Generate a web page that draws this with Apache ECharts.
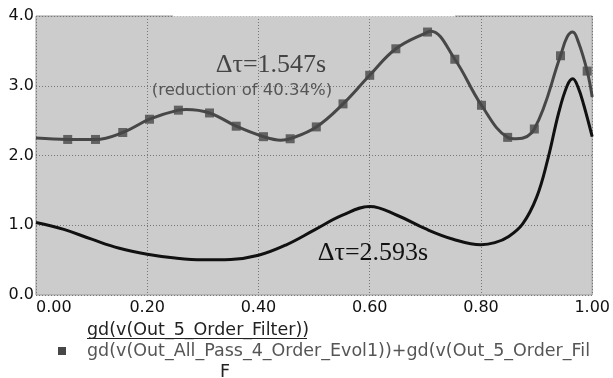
<!DOCTYPE html>
<html>
<head>
<meta charset="utf-8">
<script src="https://cdn.jsdelivr.net/npm/echarts@6/dist/echarts.min.js"></script>
<style>
html,body{margin:0;padding:0;background:#fff;}
#chart{width:613px;height:378px;}
</style>
</head>
<body>
<div id="chart"></div>
<script>
// x-axis ticks and y-axis ticks
var xTicks = [0, 0.2, 0.4, 0.6, 0.8, 1.0];
var yTicks = [0, 1, 2, 3, 4];

// Black curve: gd(v(Out_5_Order_Filter))
var blackX = [0, 0.05, 0.1, 0.15, 0.2, 0.25, 0.3, 0.35, 0.4, 0.45, 0.5, 0.55, 0.6, 0.65, 0.7, 0.75, 0.8, 0.825, 0.85, 0.875, 0.9, 0.92, 0.94, 0.955, 0.965, 0.975, 0.985, 1.0];
var blackY = [1.04, 0.94, 0.80, 0.67, 0.585, 0.53, 0.505, 0.51, 0.57, 0.72, 0.93, 1.14, 1.27, 1.14, 0.95, 0.80, 0.72, 0.75, 0.84, 1.02, 1.40, 1.94, 2.62, 3.0, 3.10, 2.97, 2.72, 2.27];

// Gray curve: gd(v(Out_All_Pass_4_Order_Evol1))+gd(v(Out_5_Order_Filter))
var grayX = [0, 0.057, 0.107, 0.156, 0.204, 0.256, 0.27, 0.312, 0.360, 0.409, 0.44, 0.457, 0.504, 0.552, 0.600, 0.647, 0.704, 0.71, 0.753, 0.801, 0.848, 0.864, 0.896, 0.943, 0.955, 0.965, 0.975, 0.991, 1.0];
var grayY = [2.25, 2.23, 2.23, 2.33, 2.52, 2.65, 2.66, 2.61, 2.42, 2.27, 2.22, 2.24, 2.41, 2.74, 3.15, 3.53, 3.77, 3.78, 3.38, 2.72, 2.26, 2.24, 2.38, 3.43, 3.70, 3.77, 3.63, 3.21, 2.84];

// Square markers on the gray curve
var markerX = [0.057, 0.107, 0.156, 0.204, 0.256, 0.312, 0.360, 0.409, 0.457, 0.504, 0.552, 0.600, 0.647, 0.704, 0.753, 0.801, 0.848, 0.896, 0.943, 0.991];
var markerY = [2.23, 2.23, 2.33, 2.52, 2.65, 2.61, 2.42, 2.27, 2.24, 2.41, 2.74, 3.15, 3.53, 3.77, 3.38, 2.72, 2.26, 2.38, 3.43, 3.21];

var legendNames = ['gd(v(Out_5_Order_Filter))', 'gd(v(Out_All_Pass_4_Order_Evol1))+gd(v(Out_5_Order_Fil', 'F'];
var annotations = ['\u0394\u03c4=1.547s', '(reduction of 40.34%)', '\u0394\u03c4=2.593s'];

function zip(a, b) { return a.map(function (v, i) { return [v, b[i]]; }); }

var chart = echarts.init(document.getElementById('chart'), null, {renderer: 'canvas'});
var sans = '"DejaVu Sans", Verdana, sans-serif';
var serif = '"Liberation Serif", "Times New Roman", serif';

chart.setOption({
  animation: false,
  backgroundColor: '#ffffff',
  grid: {left: 36, right: 19, top: 16, bottom: 83, show: true, backgroundColor: '#cccccc', borderColor: '#999999', borderWidth: 1},
  xAxis: {
    type: 'value', min: 0, max: 1, interval: 0.2,
    axisLine: {show: false},
    axisTick: {show: false},
    axisLabel: {fontFamily: sans, fontSize: 16, color: '#111', margin: 5, alignMinLabel: 'left',
      formatter: function (v) { return v.toFixed(2); }},
    splitLine: {show: true, lineStyle: {color: '#777', type: [1, 2], width: 1}}
  },
  yAxis: {
    type: 'value', min: 0, max: 4, interval: 1,
    axisLine: {show: false},
    axisTick: {show: false},
    axisLabel: {fontFamily: sans, fontSize: 16, color: '#111', margin: 2,
      formatter: function (v) { return v.toFixed(1); }},
    splitLine: {show: true, lineStyle: {color: '#777', type: [1, 2], width: 1}}
  },
  series: [
    {type: 'line', name: legendNames[0], data: zip(blackX, blackY), smooth: 0.4, showSymbol: false,
      lineStyle: {color: '#111', width: 3}, z: 3},
    {type: 'line', name: legendNames[1], data: zip(grayX, grayY), smooth: 0.4, showSymbol: false,
      lineStyle: {color: '#474747', width: 3}, z: 4},
    {type: 'scatter', name: 'markers', data: zip(markerX, markerY), symbol: 'rect', symbolSize: 9,
      itemStyle: {color: '#474747'}, z: 5}
  ],
  graphic: [
    {type: 'rect', shape: {x: 173, y: 0, width: 282, height: 16.5}, style: {fill: '#ffffff'}, z: 100},
    {type: 'text', x: 271, y: 65, style: {text: annotations[0], font: '26px ' + serif, fill: '#444', align: 'center', verticalAlign: 'middle'}, z: 100},
    {type: 'text', x: 242, y: 91, style: {text: annotations[1], font: '16.5px ' + sans, fill: '#555', align: 'center', verticalAlign: 'middle'}, z: 100},
    {type: 'text', x: 373, y: 253, style: {text: annotations[2], font: '26px ' + serif, fill: '#111', align: 'center', verticalAlign: 'middle'}, z: 100},
    {type: 'text', x: 87, y: 330, style: {text: legendNames[0], font: '17.5px ' + sans, fill: '#222', verticalAlign: 'middle'}, z: 100},
    {type: 'line', shape: {x1: 87, y1: 338.5, x2: 307, y2: 338.5}, style: {stroke: '#222', lineWidth: 1}, z: 100},
    {type: 'rect', shape: {x: 58, y: 347, width: 8, height: 8}, style: {fill: '#474747'}, z: 100},
    {type: 'text', x: 87, y: 351, style: {text: legendNames[1], font: '17.5px ' + sans, fill: '#555', verticalAlign: 'middle'}, z: 100},
    {type: 'text', x: 220, y: 372, style: {text: legendNames[2], font: '17.5px ' + sans, fill: '#222', verticalAlign: 'middle'}, z: 100}
  ]
});
</script>
</body>
</html>
